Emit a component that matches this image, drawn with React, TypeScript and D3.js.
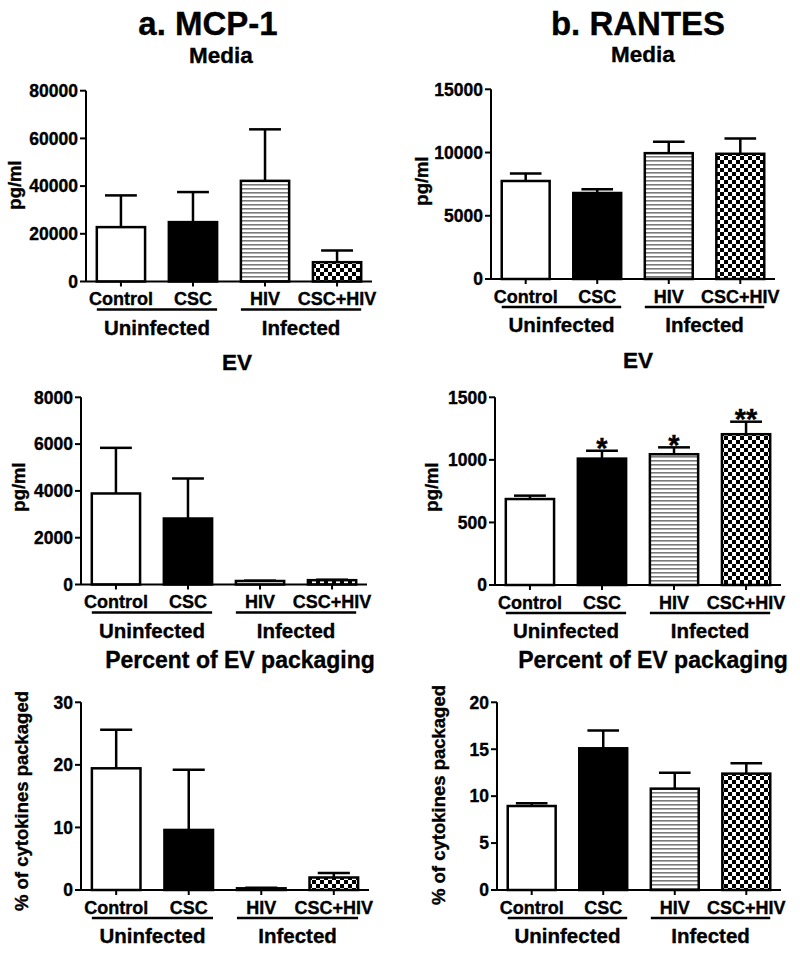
import * as d3 from "d3";

// ---- data ----
const categories = ["Control", "CSC", "HIV", "CSC+HIV"];
const groupNames = ["Uninfected", "Infected"];
const groupMembers = [
  ["Control", "CSC"],
  ["HIV", "CSC+HIV"],
];

const mcpMediaMean = [22800, 24900, 42200, 8100];
const mcpMediaSem = [13300, 12600, 21600, 4900];
const rantesMediaMean = [7750, 6800, 9950, 9900];
const rantesMediaSem = [600, 300, 900, 1200];

const mcpEvMean = [3890, 2820, 150, 185];
const mcpEvSem = [1950, 1710, 15, 20];
const rantesEvMean = [687, 1010, 1045, 1205];
const rantesEvSem = [27, 63, 55, 100];
const rantesEvStars = ["", "*", "*", "**"];

const mcpPctMean = [19.45, 9.6, 0.27, 2.0];
const mcpPctSem = [6.15, 9.6, 0.1, 0.7];
const rantesPctMean = [8.95, 15.1, 10.8, 12.4];
const rantesPctSem = [0.3, 1.9, 1.7, 1.1];

const mcpMediaTicks = [0, 20000, 40000, 60000, 80000];
const rantesMediaTicks = [0, 5000, 10000, 15000];
const mcpEvTicks = [0, 2000, 4000, 6000, 8000];
const rantesEvTicks = [0, 500, 1000, 1500];
const mcpPctTicks = [0, 10, 20, 30];
const rantesPctTicks = [0, 5, 10, 15, 20];

const FONT = "'Liberation Sans', Arial, Helvetica, sans-serif";
const W = 800;
const H = 956;
const fills = ["#fff", "#000", "url(#hlines)", "url(#checker)"];
// a thin outline makes the text as heavy as in the scanned figure
const TXT = { stroke: "#000", strokeWidth: 0.35 };

interface PanelSpec {
  subtitle: string;
  subX: number;
  subY: number;
  subSize: number;
  yLabel: string;
  yLabelX: number;
  yLabelY: number;
  mean: number[];
  sem: number[];
  ticks: number[];
  stars?: string[];
  xr: [number, number];
  yr: [number, number];
}

const panels: PanelSpec[] = [
  {
    subtitle: "Media", subX: 221, subY: 63, subSize: 22.5, yLabel: "pg/ml", yLabelX: 14, yLabelY: 185,
    mean: mcpMediaMean, sem: mcpMediaSem, ticks: mcpMediaTicks, xr: [86, 372], yr: [281.5, 90.7],
  },
  {
    subtitle: "Media", subX: 643, subY: 62, subSize: 22.5, yLabel: "pg/ml", yLabelX: 421, yLabelY: 181,
    mean: rantesMediaMean, sem: rantesMediaSem, ticks: rantesMediaTicks, xr: [491, 775], yr: [279, 89.3],
  },
  {
    subtitle: "EV", subX: 237, subY: 370, subSize: 22.5, yLabel: "pg/ml", yLabelX: 18, yLabelY: 487,
    mean: mcpEvMean, sem: mcpEvSem, ticks: mcpEvTicks, xr: [81, 367], yr: [584.5, 397.3],
  },
  {
    subtitle: "EV", subX: 638, subY: 368, subSize: 22.5, yLabel: "pg/ml", yLabelX: 431, yLabelY: 487,
    mean: rantesEvMean, sem: rantesEvSem, ticks: rantesEvTicks, stars: rantesEvStars,
    xr: [495, 781], yr: [585, 397.3],
  },
  {
    subtitle: "Percent of EV packaging", subX: 240, subY: 668, subSize: 23, yLabel: "% of cytokines packaged",
    yLabelX: 21, yLabelY: 801, mean: mcpPctMean, sem: mcpPctSem, ticks: mcpPctTicks,
    xr: [81, 369], yr: [890, 702.3],
  },
  {
    subtitle: "Percent of EV packaging", subX: 653, subY: 668, subSize: 23, yLabel: "% of cytokines packaged",
    yLabelX: 438, yLabelY: 795, mean: rantesPctMean, sem: rantesPctSem, ticks: rantesPctTicks,
    xr: [497, 781], yr: [890, 702.3],
  },
];

function Panel({ p }: { p: PanelSpec }) {
  const x = d3.scaleBand<string>().domain(categories).range(p.xr).paddingInner(0.33).paddingOuter(0.15);
  const yMax = p.ticks[p.ticks.length - 1];
  const y = d3.scaleLinear().domain([0, yMax]).range(p.yr);
  const bw = x.bandwidth();
  const y0 = y(0);
  const ax = p.xr[0];
  const capW = bw * 0.66;

  return (
    <g fontFamily={FONT} fontWeight="bold" fill="#000">
      <text x={p.subX} y={p.subY} textAnchor="middle" fontSize={p.subSize} {...TXT}>{p.subtitle}</text>
      <text
        transform={`translate(${p.yLabelX},${p.yLabelY}) rotate(-90)`}
        textAnchor="middle"
        dominantBaseline="central"
        fontSize={18.5}
        {...TXT}
      >
        {p.yLabel}
      </text>

      {categories.map((c, i) => {
        const cx = (x(c) ?? 0) + bw / 2;
        const top = y(p.mean[i]);
        const errTop = y(p.mean[i] + p.sem[i]);
        return (
          <g key={c}>
            <line x1={cx} x2={cx} y1={top} y2={errTop} stroke="#000" strokeWidth={2.5} />
            <line x1={cx - capW / 2} x2={cx + capW / 2} y1={errTop} y2={errTop} stroke="#000" strokeWidth={2.5} />
            <rect
              x={x(c)}
              y={top}
              width={bw}
              height={y0 - top}
              fill={fills[i]}
              stroke="#000"
              strokeWidth={2.5}
            />
            {p.stars && p.stars[i] && (
              <text x={cx} y={errTop - 5 + 0.43 * 29} textAnchor="middle" fontSize={29} {...TXT}>
                {p.stars[i]}
              </text>
            )}
            <line x1={cx} x2={cx} y1={y0} y2={y0 + 5} stroke="#000" strokeWidth={2} />
            <text x={cx} y={y0 + 23.5} textAnchor="middle" fontSize={18} {...TXT}>{c}</text>
          </g>
        );
      })}

      {/* axes */}
      <line x1={ax} x2={ax} y1={y(yMax)} y2={y0} stroke="#000" strokeWidth={2} />
      <line x1={ax} x2={p.xr[1]} y1={y0} y2={y0} stroke="#000" strokeWidth={2} />
      {p.ticks.map((t) => (
        <g key={t}>
          <line x1={ax - 6} x2={ax} y1={y(t)} y2={y(t)} stroke="#000" strokeWidth={2} />
          <text x={ax - 8} y={y(t)} dy="0.36em" textAnchor="end" fontSize={17.5} {...TXT}>{t}</text>
        </g>
      ))}

      {/* group brackets */}
      {groupNames.map((g, gi) => {
        const members = groupMembers[gi];
        const x1 = x(members[0]) ?? 0;
        const x2 = (x(members[members.length - 1]) ?? 0) + bw;
        return (
          <g key={g}>
            <line x1={x1} x2={x2} y1={y0 + 28} y2={y0 + 28} stroke="#000" strokeWidth={2.5} />
            <text x={(x1 + x2) / 2} y={y0 + 53} textAnchor="middle" fontSize={20.5} {...TXT}>{g}</text>
          </g>
        );
      })}
    </g>
  );
}

export default function App() {
  return (
    <svg
      width={W}
      height={H}
      viewBox={`0 0 ${W} ${H}`}
      style={{ position: "absolute", left: 0, top: 0, background: "#fff" }}
    >
      <defs>
        <pattern id="hlines" patternUnits="userSpaceOnUse" width={4} height={4}>
          <rect width={4} height={4} fill="#fff" />
          <rect y={0} width={4} height={1.6} fill="#7a7a7a" />
        </pattern>
        <pattern id="checker" patternUnits="userSpaceOnUse" width={8} height={8}>
          <rect width={8} height={8} fill="#fff" />
          <rect x={0} y={0} width={4} height={4} fill="#000" />
          <rect x={4} y={4} width={4} height={4} fill="#000" />
        </pattern>
      </defs>
      <rect width={W} height={H} fill="#fff" />
      <g fontFamily={FONT} fontWeight="bold" {...TXT}>
        <text x={208} y={35} textAnchor="middle" fontSize={33}>a. MCP-1</text>
        <text x={638} y={35} textAnchor="middle" fontSize={33}>b. RANTES</text>
      </g>
      {panels.map((p, i) => (
        <Panel key={i} p={p} />
      ))}
    </svg>
  );
}
